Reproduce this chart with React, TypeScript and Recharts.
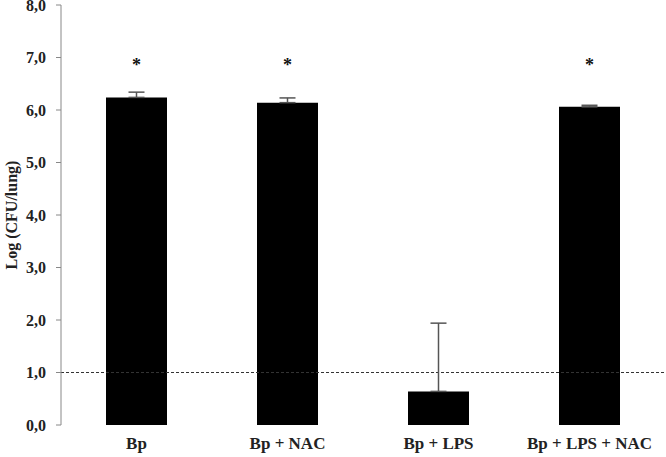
import {
  ComposedChart,
  Bar,
  ErrorBar,
  Line,
  XAxis,
  YAxis,
  ReferenceLine,
} from "recharts";

const groups = ["Bp", "Bp + NAC", "Bp + LPS", "Bp + LPS + NAC"];
const logCfu = [6.24, 6.14, 0.64, 6.06];
const upperErr = [0.1, 0.09, 1.3, 0.03];
const significant = [true, true, false, true];
const yTicks = [0, 1, 2, 3, 4, 5, 6, 7, 8];
const detectionLimit = 1;
const starLevel = 6.85;

const data = groups.map((g, i) => ({
  group: g,
  value: logCfu[i],
  err: [0, upperErr[i]],
  star: significant[i] ? starLevel : null,
}));

const font = "'Liberation Serif', 'Times New Roman', serif";

const Star = (props: any) => {
  const { cx, cy, payload } = props;
  if (payload.star == null) return <g />;
  return (
    <text
      x={cx}
      y={cy}
      textAnchor="middle"
      dominantBaseline="central"
      fontFamily={font}
      fontWeight="bold"
      fontSize={18}
      fill="#111"
    >
      *
    </text>
  );
};

const YTitle = (props: any) => {
  const { viewBox } = props;
  const cx = 11;
  const cy = viewBox.y + viewBox.height / 2;
  return (
    <text
      x={cx}
      y={cy}
      transform={`rotate(-90, ${cx}, ${cy})`}
      textAnchor="middle"
      dominantBaseline="central"
      fontFamily={font}
      fontWeight="bold"
      fontSize={16}
      fill="#222"
    >
      Log (CFU/lung)
    </text>
  );
};

const App = () => {
  return (
    <div style={{ position: "absolute", left: 0, top: 0 }}>
      <ComposedChart
        width={666}
        height={457}
        data={data}
        margin={{ top: 5, right: 1, left: 0, bottom: 2 }}
        barSize={61}
      >
        <XAxis
          xAxisId="edges"
          type="number"
          domain={[0, 4]}
          ticks={[0, 1, 2, 3, 4]}
          tick={false}
          tickLine={{ stroke: "#888" }}
          tickSize={5}
          axisLine={{ stroke: "#888" }}
          height={0}
        />
        <XAxis
          dataKey="group"
          tickLine={false}
          axisLine={false}
          height={30}
          tickMargin={6}
          tick={{
            fontFamily: font,
            fontWeight: "bold",
            fontSize: 17,
            fill: "#222",
          }}
        />
        <YAxis
          width={61}
          domain={[0, 8]}
          ticks={yTicks}
          interval={0}
          tickFormatter={(v: number) => v.toFixed(1).replace(".", ",")}
          tickLine={{ stroke: "#888" }}
          axisLine={{ stroke: "#888" }}
          tickSize={5}
          tickMargin={10}
          tick={{
            fontFamily: font,
            fontWeight: "bold",
            fontSize: 16,
            fill: "#222",
          }}
          label={<YTitle />}
        />
        <ReferenceLine
          y={detectionLimit}
          stroke="#333"
          strokeDasharray="3 2"
        />
        <Bar dataKey="value" fill="#000" isAnimationActive={false}>
          <ErrorBar
            dataKey="err"
            width={8}
            stroke="#555"
            strokeWidth={1.5}
            direction="y"
          />
        </Bar>
        <Line
          dataKey="star"
          stroke="none"
          dot={<Star />}
          activeDot={false}
          isAnimationActive={false}
        />
      </ComposedChart>
    </div>
  );
};

export default App;
